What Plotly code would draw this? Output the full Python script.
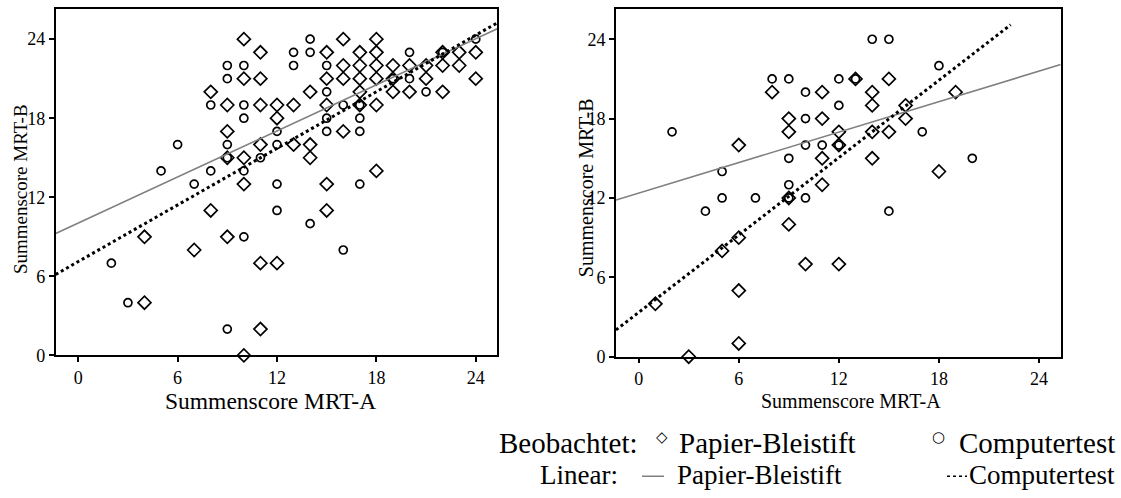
import plotly.graph_objects as go

# ---------------- data ----------------
# Left panel (Summenscore MRT-A vs MRT-B)
left_pb_x = [10, 11, 10, 11, 8, 9, 11, 12, 12, 9, 11, 10, 9, 10, 8, 4, 9, 7, 11, 12, 4, 11, 10,
             16, 18, 15, 17, 18, 22, 23, 24,
             16, 17, 18, 19, 20, 21, 22, 23,
             15, 16, 17, 18, 19, 21, 24,
             14, 17, 19, 20, 22,
             13, 15, 17, 18,
             16, 13, 14, 14, 18, 15, 15]
left_pb_y = [24, 23, 21, 21, 20, 19, 19, 19, 18, 17, 16, 15, 15, 13, 11, 9, 9, 8, 7, 7, 4, 2, 0,
             24, 24, 23, 23, 23, 23, 23, 23,
             22, 22, 22, 22, 22, 22, 22, 22,
             21, 21, 21, 21, 21, 21, 21,
             20, 20, 20, 20, 20,
             19, 19, 19, 19,
             17, 16, 16, 15, 14, 13, 11]
left_ct_x = [9, 10, 9, 8, 10, 10, 12, 6, 9, 12, 5, 8, 10, 11, 9, 7, 12, 12, 10, 2, 3, 9,
             14, 24, 13, 14, 20, 22, 13, 15, 19, 20, 15, 21, 16, 17, 15, 17, 15, 17, 17, 14, 16]
left_ct_y = [22, 22, 21, 19, 19, 18, 17, 16, 16, 16, 14, 14, 14, 15, 15, 13, 13, 11, 9, 7, 4, 2,
             24, 24, 23, 23, 23, 23, 22, 22, 21, 21, 20, 20, 19, 19, 18, 18, 17, 17, 13, 10, 8]

# Right panel
right_pb_x = [8, 11, 9, 11, 9, 12, 6, 12, 11, 11, 9, 9, 6, 5, 10, 12, 1, 6, 6, 3,
              13, 15, 14, 19, 14, 16, 16, 14, 15, 14, 18]
right_pb_y = [20, 20, 18, 18, 17, 17, 16, 16, 15, 13, 12, 10, 9, 8, 7, 7, 4, 5, 1, 0,
              21, 21, 20, 20, 19, 19, 18, 17, 17, 15, 14]
right_ct_x = [8, 9, 10, 12, 12, 2, 10, 10, 11, 12, 5, 9, 9, 5, 7, 9, 10, 4,
              14, 15, 18, 13, 17, 20, 15]
right_ct_y = [21, 21, 20, 21, 19, 17, 18, 16, 16, 16, 14, 15, 13, 12, 12, 12, 12, 11,
              24, 24, 22, 21, 17, 15, 11]

# Linear fits (intercept, slope) and x-extent of each fit line
left_fit_pb = (10.04, 0.583)
left_fit_ct = (7.12, 0.716)
right_fit_pb = (12.37, 0.384)
right_fit_ct = (3.35, 0.975)
x_range = [-1.36, 25.3]
y_range = [0, 26.3]
right_ct_line_end = 22.3

tick_vals = [0, 6, 12, 18, 24]
tick_text = ["0", "6", "12", "18", "24"]
x_title = "Summenscore MRT-A"
y_title = "Summenscore MRT-B"
legend_obs = "Beobachtet:"
legend_lin = "Linear:"
group_pb = "Papier-Bleistift"
group_ct = "Computertest"

# ---------------- figure ----------------
W, H = 1121, 498
FONT = "Liberation Serif"

fig = go.Figure()

def px_x(p):
    return p / W

def px_y(p):
    return 1 - p / H

def line_pts(fit, x0, x1):
    a, b = fit
    return [x0, x1], [a + b * x0, a + b * x1]

diamond = dict(symbol="diamond-open", size=10, color="black", line=dict(width=1.7, color="black"))
circle = dict(symbol="circle-open", size=8, color="black", line=dict(width=1.7, color="black"))

for xa, ya, pbx, pby, ctx, cty, fpb, fct, ct_end in [
    ("x", "y", left_pb_x, left_pb_y, left_ct_x, left_ct_y, left_fit_pb, left_fit_ct, x_range[1]),
    ("x2", "y2", right_pb_x, right_pb_y, right_ct_x, right_ct_y, right_fit_pb, right_fit_ct, right_ct_line_end),
]:
    fig.add_trace(go.Scatter(x=pbx, y=pby, mode="markers", marker=diamond,
                             xaxis=xa, yaxis=ya, name=group_pb, showlegend=False,
                             cliponaxis=False))
    fig.add_trace(go.Scatter(x=ctx, y=cty, mode="markers", marker=circle,
                             xaxis=xa, yaxis=ya, name=group_ct, showlegend=False,
                             cliponaxis=False))
    lx, ly = line_pts(fpb, x_range[0], x_range[1])
    fig.add_trace(go.Scatter(x=lx, y=ly, mode="lines", line=dict(color="#808080", width=1.6),
                             xaxis=xa, yaxis=ya, name="Linear " + group_pb, showlegend=False))
    lx, ly = line_pts(fct, x_range[0], ct_end)
    fig.add_trace(go.Scatter(x=lx, y=ly, mode="lines", line=dict(color="black", width=3, dash="dot"),
                             xaxis=xa, yaxis=ya, name="Linear " + group_ct, showlegend=False))

axis_common = dict(
    showgrid=False, zeroline=False, showline=True, linecolor="black", linewidth=1.6, mirror=True,
    ticks="outside", ticklen=5, tickwidth=1.5, tickcolor="black",
    tickfont=dict(family=FONT, size=18, color="black"),
    tickvals=tick_vals, ticktext=tick_text,
)

fig.update_layout(
    width=W, height=H, margin=dict(l=0, r=0, t=0, b=0),
    paper_bgcolor="white", plot_bgcolor="white", showlegend=False,
    font=dict(family=FONT, color="black"),
    xaxis=dict(axis_common, domain=[px_x(55.7), px_x(497.3)], range=x_range, anchor="y"),
    yaxis=dict(axis_common, domain=[px_y(362.7), px_y(9)], range=y_range, anchor="x"),
    xaxis2=dict(axis_common, domain=[px_x(616), px_x(1060.7)], range=x_range, anchor="y2"),
    yaxis2=dict(axis_common, domain=[px_y(364), px_y(9)], range=y_range, anchor="x2"),
)

ann = []
def text(x, y, s, size, xanchor="center", yanchor="middle", angle=0, color="black", family=FONT):
    ann.append(dict(x=px_x(x), y=px_y(y), xref="paper", yref="paper", text=s, showarrow=False,
                    xanchor=xanchor, yanchor=yanchor, textangle=angle,
                    font=dict(family=family, size=size, color=color)))

# axis titles
text(270, 409, x_title, 23.5)
text(851, 409, x_title, 20)
text(20, 193, y_title, 19, angle=-90)
text(586, 192, y_title, 20, angle=-90)

# legend
r1, r2 = 452, 485
LF1, LF2 = 29, 27
text(497, r1, legend_obs, LF1, xanchor="left")
text(662, r1 - 6, "\u25C7", 15, family="DejaVu Sans")
text(677, r1, group_pb, LF1, xanchor="left")
text(938, r1 - 6, "\u25CB", 15, family="DejaVu Sans")
text(1117, r1, group_ct, LF1, xanchor="right")
text(538, r2, legend_lin, LF2, xanchor="left")
text(675, r2, group_pb, LF2, xanchor="left")
text(1117, r2, group_ct, LF2, xanchor="right")
fig.update_layout(annotations=ann)

fig.update_layout(shapes=[
    dict(type="line", xref="paper", yref="paper", x0=px_x(642), x1=px_x(664), y0=px_y(r2 + 1), y1=px_y(r2 + 1),
         line=dict(color="#808080", width=1.5)),
    dict(type="line", xref="paper", yref="paper", x0=px_x(947), x1=px_x(967), y0=px_y(r2 + 1), y1=px_y(r2 + 1),
         line=dict(color="black", width=1.5, dash="dot")),
])

fig.write_html("out.html")
